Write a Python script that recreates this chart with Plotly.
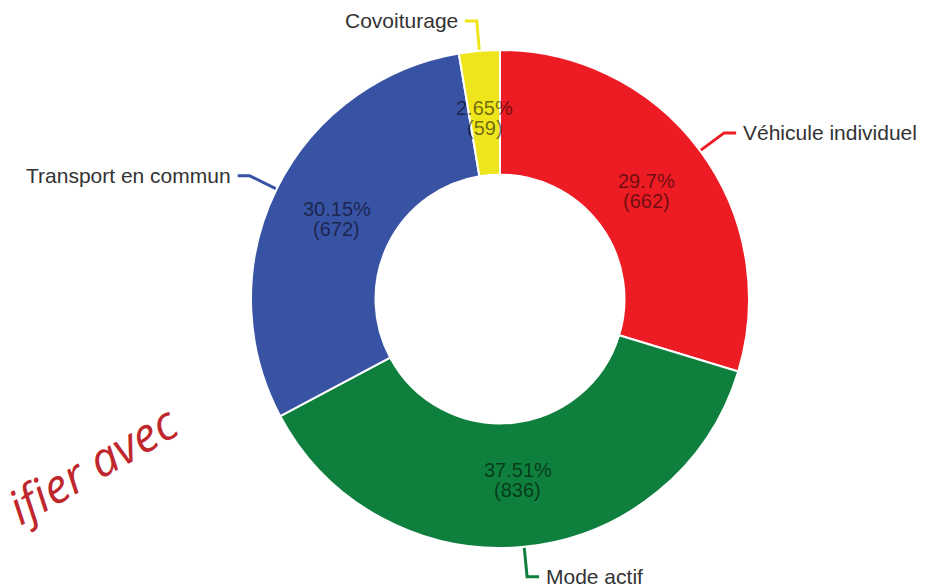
import math
import plotly.graph_objects as go

labels = ["Véhicule individuel", "Mode actif", "Transport en commun", "Covoiturage"]
values = [662, 836, 672, 59]
percents = ["29.7%", "37.51%", "30.15%", "2.65%"]
colors = ["#ED1C24", "#0F7F3D", "#3953A4", "#EFE51C"]

W, H = 935, 587
cx, cy, R = 500, 299, 249
hole = 0.5


def px(x):
    return x / W


def py(y):
    return 1 - y / H


fig = go.Figure(go.Pie(
    labels=labels, values=values, sort=False, direction="clockwise", rotation=0,
    hole=hole, textinfo="none", hoverinfo="label+value+percent",
    marker=dict(colors=colors, line=dict(color="white", width=2)),
    domain=dict(x=[px(cx - R), px(cx + R)], y=[py(cy + R), py(cy - R)]),
))

total = sum(values)
annotations = []
shapes = []
cum = 0
for lab, val, pct, col in zip(labels, values, percents, colors):
    a = math.radians((cum + val / 2) / total * 360)
    cum += val
    s, c = math.sin(a), math.cos(a)

    # inside labels
    r_in = 182
    tx, ty = cx + r_in * s, cy - r_in * c
    for txt, dy in [(pct, -10), ("(%d)" % val, 10)]:
        annotations.append(dict(
            x=px(tx), y=py(ty + dy), xref="paper", yref="paper", text=txt,
            showarrow=False, xanchor="center", yanchor="middle",
            font=dict(family="Liberation Sans, Arial", size=20,
                      color="rgba(0,0,0,0.55)")))

    # leader lines + outside labels
    side = 1 if s >= 0 else -1
    x0, y0 = cx + (R + 1) * s, cy - (R + 1) * c
    x1, y1 = cx + (R + 30) * s, cy - (R + 30) * c
    x2 = x1 + side * 12
    shapes.append(dict(
        type="path", xref="paper", yref="paper",
        path="M %f %f L %f %f L %f %f" % (px(x0), py(y0), px(x1), py(y1), px(x2), py(y1)),
        line=dict(color=col, width=3)))
    annotations.append(dict(
        x=px(x2 + side * 5), y=py(y1), xref="paper", yref="paper", text=lab,
        showarrow=False, xanchor="left" if side > 0 else "right", yanchor="middle",
        font=dict(family="Liberation Sans, Arial", size=21, color="#333333")))

annotations.append(dict(
    x=px(92), y=py(464), xref="paper", yref="paper", text="ifier avec",
    showarrow=False, textangle=-30, xanchor="center", yanchor="middle",
    font=dict(family="Open Sans", size=47, color="#C0272D", style="italic")))

fig.update_layout(
    width=W, height=H, showlegend=False,
    margin=dict(l=0, r=0, t=0, b=0),
    paper_bgcolor="white", plot_bgcolor="white",
    annotations=annotations, shapes=shapes,
)

fig.write_html("out.html", config={"displayModeBar": False},
               post_script="document.body.style.margin='0';")
